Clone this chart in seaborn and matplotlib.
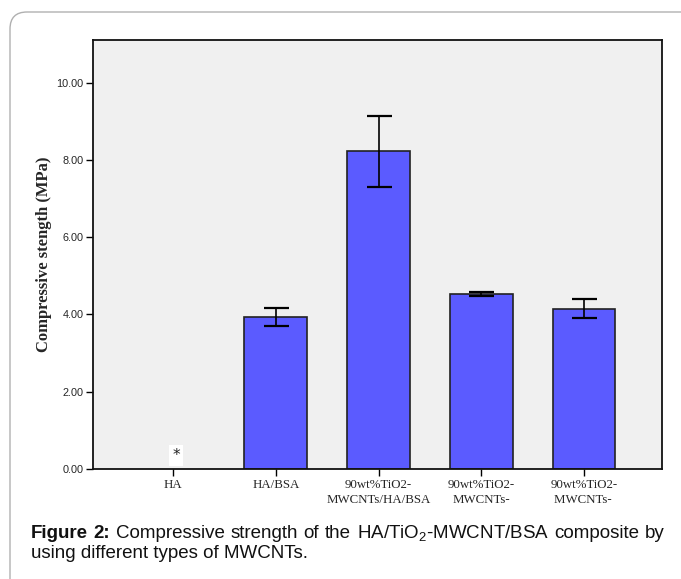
import numpy as np
import pandas as pd
import matplotlib
matplotlib.use("Agg")
import matplotlib.pyplot as plt
import seaborn as sns
from matplotlib.patches import FancyBboxPatch

categories = ["HA", "HA/BSA", "90wt%TiO2-\nMWCNTs/HA/BSA", "90wt%TiO2-\nMWCNTs-", "90wt%TiO2-\nMWCNTs- "]
means = [np.nan, 3.93, 8.22, 4.52, 4.15]
errors = [np.nan, 0.24, 0.92, 0.05, 0.24]
yticks = [0, 2, 4, 6, 8, 10]

sns.set_theme(style="white")
plt.rcParams["font.family"] = ["Liberation Sans", "DejaVu Sans"]
plt.rcParams["mathtext.fontset"] = "custom"
plt.rcParams["mathtext.rm"] = "Liberation Sans"
plt.rcParams["mathtext.it"] = "Liberation Sans:italic"
plt.rcParams["mathtext.bf"] = "Liberation Sans:bold"

W, H = 681, 579
fig = plt.figure(figsize=(W / 100, H / 100), dpi=100)
fig.patch.set_facecolor("white")

# outer rounded frame
frame = FancyBboxPatch((10 / W, -0.05), 1.2, (H - 12) / H + 0.05,
                       boxstyle="round,pad=0,rounding_size=0.025",
                       transform=fig.transFigure, facecolor="none",
                       edgecolor="#b0b0b0", linewidth=1.0, mutation_aspect=W / H)
fig.patches.append(frame)

ax = fig.add_axes([93 / W, (H - 469) / H, (662 - 93) / W, (469 - 40) / H])
ax.set_facecolor("#f0f0f0")

df = pd.DataFrame({"group": categories, "value": means})
sns.barplot(data=df, x="group", y="value", order=categories, color="#5b5bff",
            saturation=1, width=0.61, edgecolor="#222222", linewidth=1.2,
            errorbar=None, ax=ax)

xpos = np.arange(len(categories))
ax.errorbar(xpos, means, yerr=errors, fmt="none", ecolor="black",
            elinewidth=1.2, capsize=9, capthick=1.6)

ax.text(0.03, 0.34, "*", ha="center", va="center", fontsize=11,
        fontfamily="DejaVu Sans", color="#222222",
        bbox=dict(facecolor="white", edgecolor="none", boxstyle="square,pad=0.2"))

ax.set_ylim(0, 11.1)
ax.set_xlim(-0.78, 4.76)
ax.set_yticks(yticks)
ax.set_yticklabels([f"{v:.2f}" for v in yticks], fontsize=7.8, fontfamily="Liberation Sans")
ax.set_xticks(xpos)
ax.set_xticklabels(categories, fontsize=9.3, fontfamily="Liberation Serif", linespacing=1.4)
ax.tick_params(axis="both", direction="out", length=5, width=1.0, color="black",
               pad=2, left=True, bottom=True)
ax.set_xlabel("")
ax.set_ylabel("Compressive stength (MPa)", fontsize=12, fontweight="bold",
              fontfamily="Liberation Serif", labelpad=3)
for s in ax.spines.values():
    s.set_visible(True)
    s.set_color("#111111")
    s.set_linewidth(1.3)

# caption (first line justified)
fig.canvas.draw()
r = fig.canvas.get_renderer()
x_left, x_right = 31, 665
fs = 13.5
y1 = 1 - 538 / H
y2 = 1 - 558 / H
words = [("Figure", "bold"), ("2:", "bold"), ("Compressive", "normal"), ("strength", "normal"),
         ("of", "normal"), ("the", "normal"), ("HA/TiO$_2$-MWCNT/BSA", "normal"),
         ("composite", "normal"), ("by", "normal")]
objs = []
widths = []
for w, fw in words:
    t = fig.text(0, y1, w, fontsize=fs, fontweight=fw, fontfamily="Liberation Sans",
                 va="baseline", color="#111111")
    objs.append(t)
    widths.append(t.get_window_extent(renderer=r).width)
gap = (x_right - x_left - sum(widths)) / (len(words) - 1)
cx = x_left
for t, wd in zip(objs, widths):
    t.set_x(cx / W)
    cx += wd + gap
fig.text(x_left / W, y2, "using different types of MWCNTs.", fontsize=fs,
         fontfamily="Liberation Sans", va="baseline", color="#111111")

fig.savefig("out.png", dpi=100, facecolor="white")
